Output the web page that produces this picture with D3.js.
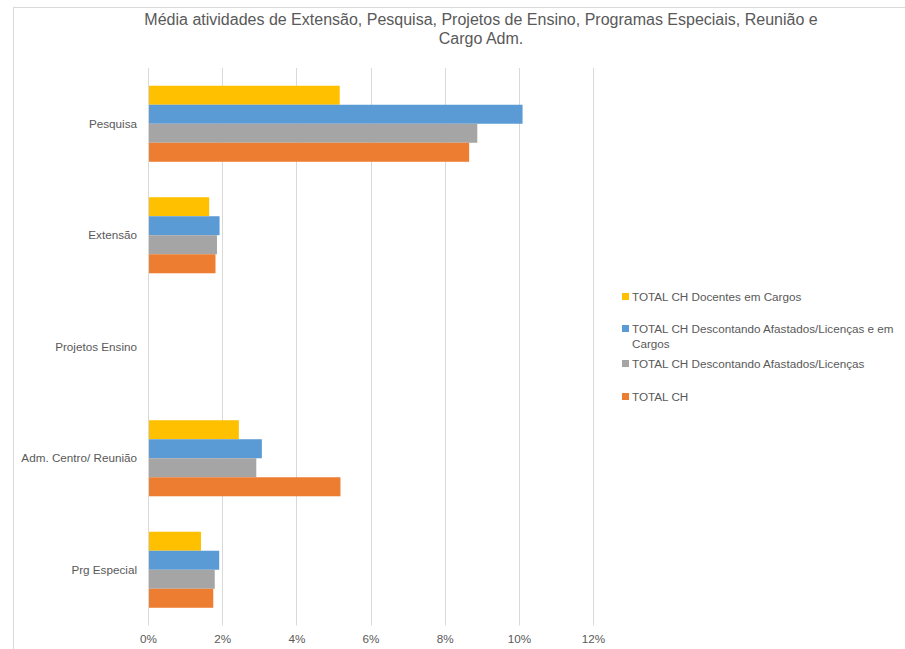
<!DOCTYPE html>
<html><head><meta charset="utf-8">
<script src="https://cdn.jsdelivr.net/npm/d3@7"></script>
<style>body{margin:0;background:#fff;font-family:"Liberation Sans",Arial,sans-serif;}</style>
</head><body><svg id="c" width="905" height="649"></svg>
<script>
const categories = ["Pesquisa","Extensão","Projetos Ensino","Adm. Centro/ Reunião","Prg Especial"];
const seriesNames = ["TOTAL CH Docentes em Cargos","TOTAL CH Descontando Afastados/Licenças e em Cargos","TOTAL CH Descontando Afastados/Licenças","TOTAL CH"];
const seriesColors = ["#FFC000","#5B9BD5","#A5A5A5","#ED7D31"];
const docentesCargos = [5.17, 1.65, 0, 2.45, 1.43];
const descAfastCargos = [10.1, 1.93, 0, 3.07, 1.92];
const descAfast = [8.88, 1.86, 0, 2.92, 1.80];
const totalCH = [8.66, 1.82, 0, 5.19, 1.76];
const tickValues = [0,2,4,6,8,10,12];
const seriesValues = [docentesCargos, descAfastCargos, descAfast, totalCH];

const svg = d3.select("#c");
const FONT = "'Liberation Sans',Arial,sans-serif";
// outer border
svg.append("rect").attr("x",13.5).attr("y",7.5).attr("width",905).attr("height",660)
  .attr("fill","none").attr("stroke","#d9d9d9");

// title
const title = svg.append("text").attr("text-anchor","middle").attr("fill","#595959")
  .style("font-size","16px").style("font-family",FONT);
title.append("tspan").attr("x",481).attr("y",25).text("Média atividades de Extensão, Pesquisa, Projetos de Ensino, Programas Especiais, Reunião e");
title.append("tspan").attr("x",481).attr("y",44).text("Cargo Adm.");

const pLeft = 148, pRight = 593, pTop = 68, pBottom = 625.5;
const x = d3.scaleLinear().domain([0,12]).range([pLeft,pRight]);
const y = d3.scaleBand().domain(categories).range([pTop,pBottom]).paddingInner(0.318).paddingOuter(0.159);
const ySub = d3.scaleBand().domain(d3.range(4)).range([0,y.bandwidth()]);

// gridlines
svg.append("g").selectAll("line").data(tickValues.slice(1)).join("line")
  .attr("x1",d=>Math.round(x(d))+0.5).attr("x2",d=>Math.round(x(d))+0.5)
  .attr("y1",pTop).attr("y2",pBottom).attr("stroke","#d9d9d9").attr("stroke-width",1);

// bars
seriesValues.forEach((vals,si)=>{
  svg.append("g").selectAll("rect").data(categories).join("rect")
    .attr("x",x(0)).attr("y",(c)=>y(c)+ySub(si))
    .attr("width",(c,i)=>x(vals[i])-x(0)).attr("height",ySub.bandwidth())
    .attr("fill",seriesColors[si]);
});

// category axis line
svg.append("line").attr("x1",pLeft+0.5).attr("x2",pLeft+0.5).attr("y1",pTop).attr("y2",pBottom)
  .attr("stroke","#d9d9d9");

// x axis labels
const xAxis = d3.axisBottom(x).tickValues(tickValues).tickFormat(d=>d+"%").tickSize(0).tickPadding(9);
const gx = svg.append("g").attr("transform",`translate(0,${pBottom})`).call(xAxis);
gx.select(".domain").remove();
gx.selectAll("text").attr("fill","#595959").style("font-size","11.7px").style("font-family",FONT);

// y axis labels
const yAxis = d3.axisLeft(y).tickSize(0).tickPadding(11);
const gy = svg.append("g").attr("transform",`translate(${pLeft},0)`).call(yAxis);
gy.select(".domain").remove();
gy.selectAll("text").attr("fill","#595959").style("font-size","11.7px").style("font-family",FONT);

// legend
const legendY = [301, 333, 368, 401];
const lg = svg.append("g");
seriesNames.forEach((n,i)=>{
  lg.append("rect").attr("x",622).attr("y",legendY[i]-8).attr("width",7).attr("height",7).attr("fill",seriesColors[i]);
  const t = lg.append("text").attr("x",632).attr("y",legendY[i]).attr("fill","#595959")
    .style("font-size","11.7px").style("font-family",FONT);
  if (i===1){
    t.append("tspan").attr("x",632).text("TOTAL CH Descontando Afastados/Licenças e em");
    t.append("tspan").attr("x",632).attr("dy",15).text("Cargos");
  } else t.text(n);
});
</script></body></html>
